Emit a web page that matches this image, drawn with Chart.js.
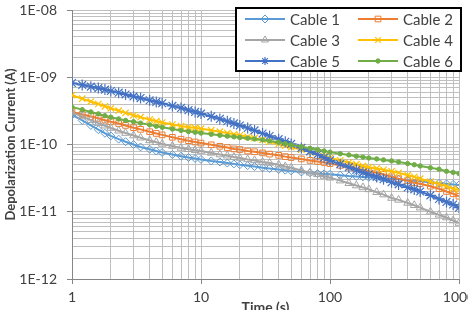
<!DOCTYPE html>
<html>
<head>
<meta charset="utf-8">
<script src="https://cdn.jsdelivr.net/npm/chart.js@4/dist/chart.umd.min.js"></script>
<style>
html, body { margin: 0; padding: 0; background: #fff; overflow: hidden; }
#wrap { width: 468px; height: 310px; }
</style>
</head>
<body>
<div id="wrap"><canvas id="chart" width="468" height="310"></canvas></div>
<script>
// Sample times (s)
const times = [1, 1.2, 1.4, 1.6, 1.8, 2, 2.3, 2.6, 3, 3.4, 4, 4.5, 5, 6, 7, 8, 9,
  10, 12, 14, 16, 18, 20, 23, 26, 30, 34, 40, 45, 50, 60, 70, 80, 90,
  100, 120, 140, 160, 180, 200, 230, 260, 300, 340, 400, 450, 500, 600, 700, 800, 900,
  1000];

// Depolarization current of each cable, in pA
const cable1 = [275, 228, 192, 166, 147, 134, 120, 110, 100, 92, 85, 80, 76, 71, 67, 64, 62,
  60, 57, 55, 53, 51.5, 50, 48.5, 47, 45, 44, 42.5, 41.5, 40.5, 39, 38, 37, 36.5,
  36, 35, 34, 33.5, 33, 32.5, 32, 31.5, 31, 30.5, 29.5, 29, 28.5, 27.5, 26.5, 26, 25.5,
  25];
const cable2 = [305, 280, 260, 245, 230, 218, 205, 192, 178, 168, 155, 146, 139, 128, 120, 114, 109,
  105, 99, 94, 90, 86, 84, 80, 78, 75, 72, 69, 66, 64, 61, 58, 56, 54,
  52, 49, 46, 44, 42, 40, 38, 36, 33, 31, 29, 27, 26, 24, 22, 20, 18.5,
  17];
const cable3 = [300, 260, 230, 208, 190, 176, 160, 148, 136, 126, 115, 108, 102, 95, 89, 85, 82,
  80, 75, 71, 68, 65, 63, 60, 58, 55, 53, 50, 47, 45, 41, 38, 36, 34,
  32, 29, 26.5, 24.5, 23, 21.5, 19.5, 18, 16, 15, 13.5, 12.5, 11.5, 10, 9, 8.2, 7.4,
  6.8];
const cable4 = [540, 480, 435, 400, 370, 345, 318, 295, 272, 255, 235, 222, 212, 198, 188, 181, 177,
  172, 163, 155, 148, 142, 137, 130, 124, 117, 110, 102, 96, 91, 84, 77, 72, 67,
  63, 58, 54, 51, 48, 46, 44, 42, 40, 38, 35, 33, 31, 28, 26, 24, 22,
  21];
const cable5 = [820, 770, 725, 690, 655, 625, 590, 555, 520, 490, 455, 430, 410, 375, 350, 325, 305,
  288, 262, 240, 222, 206, 192, 176, 162, 146, 134, 120, 110, 102, 89, 79, 71, 64,
  58, 51, 46, 42, 38.5, 36, 33, 30.5, 27.5, 25.5, 23, 21.5, 20, 17.5, 15.5, 14, 12.8,
  11.5];
const cable6 = [360, 330, 305, 285, 268, 255, 240, 228, 218, 208, 196, 187, 180, 170, 162, 156, 152,
  148, 142, 137, 133, 130, 127, 124, 121, 117, 113, 108, 103, 99, 93, 88, 84, 80,
  77, 73, 70, 67, 65, 63, 61, 59, 57, 55, 52, 50, 48, 45, 43, 40, 38.5,
  37];

const seriesNames = ['Cable 1', 'Cable 2', 'Cable 3', 'Cable 4', 'Cable 5', 'Cable 6'];

// Axis decades and their labels
const xMajor = [1, 10, 100, 1000];
const xTickLabels = ['1', '10', '100', '1000'];
const yMajor = [1e-12, 1e-11, 1e-10, 1e-9, 1e-8];
const yTickLabels = ['1E-12', '1E-11', '1E-10', '1E-09', '1E-08'];

const PA = 1e-12;
const gridColor = '#BFBFBF';
const axisColor = '#868686';
const textColor = '#404040';
const fontFamily = 'Lato, "Open Sans", sans-serif';

// major + minor (2..9) gridline ticks for a log axis
function logTicks(majors) {
    const out = [];
    majors.forEach((m, i) => {
        out.push({ value: m, major: true });
        if (i < majors.length - 1) {
            for (let k = 2; k <= 9; k++) out.push({ value: m * k, major: false });
        }
    });
    return out;
}

function labelFor(majors, labels) {
    return function(value) {
        const i = majors.findIndex(m => Math.abs(m - value) / m < 1e-6);
        return i >= 0 ? labels[i] : '';
    };
}

function points(values) {
    return values.map((v, i) => ({ x: times[i], y: v * PA }));
}

const styles = [
    { color: '#5B9BD5', pointStyle: 'rectRot', radius: 4, fill: 'rgba(0,0,0,0)', bw: 1 },
    { color: '#ED7D31', pointStyle: 'rect', radius: 4, fill: 'rgba(0,0,0,0)', bw: 1 },
    { color: '#A5A5A5', pointStyle: 'triangle', radius: 4.5, fill: 'rgba(0,0,0,0)', bw: 1 },
    { color: '#FFC000', pointStyle: 'crossRot', radius: 4.5, fill: 'rgba(0,0,0,0)', bw: 1.2 },
    { color: '#4472C4', pointStyle: 'star', radius: 5.5, fill: 'rgba(0,0,0,0)', bw: 1.2 },
    { color: '#70AD47', pointStyle: 'circle', radius: 2.2, fill: '#70AD47', bw: 1 }
];

const allSeries = [cable1, cable2, cable3, cable4, cable5, cable6];

const datasets = allSeries.map((vals, i) => ({
    label: seriesNames[i],
    data: points(vals),
    borderColor: styles[i].color,
    backgroundColor: styles[i].color,
    borderWidth: 2,
    pointStyle: styles[i].pointStyle,
    pointRadius: styles[i].radius,
    pointBorderColor: styles[i].color,
    pointBackgroundColor: styles[i].fill,
    pointBorderWidth: styles[i].bw,
    tension: 0,
    order: allSeries.length - 1 - i
}));

// Excel-like boxed legend, two columns
const boxLegend = {
    id: 'boxLegend',
    afterDraw(chart, args, o) {
        const ctx = chart.ctx;
        ctx.save();
        ctx.fillStyle = '#fff';
        ctx.fillRect(o.left, o.top, o.width, o.height);
        ctx.lineWidth = 2;
        ctx.strokeStyle = '#000';
        ctx.strokeRect(o.left, o.top, o.width, o.height);
        ctx.font = o.font;
        ctx.textBaseline = 'middle';
        ctx.textAlign = 'left';
        chart.data.datasets.forEach((ds, i) => {
            const col = i % 2;
            const row = Math.floor(i / 2);
            const x0 = o.left + o.colX[col];
            const y = o.top + o.rowY[row];
            ctx.strokeStyle = ds.borderColor;
            ctx.lineWidth = ds.borderWidth;
            ctx.beginPath();
            ctx.moveTo(x0, y);
            ctx.lineTo(x0 + o.lineLen, y);
            ctx.stroke();
            ctx.fillStyle = ds.pointBackgroundColor;
            ctx.lineWidth = ds.pointBorderWidth;
            Chart.helpers.drawPoint(ctx, {
                pointStyle: ds.pointStyle,
                radius: Math.min(ds.pointRadius, 4),
                rotation: 0,
                borderWidth: ds.pointBorderWidth
            }, x0 + o.lineLen / 2, y);
            ctx.fillStyle = textColor;
            ctx.fillText(ds.label, x0 + o.lineLen + 5, y + 1);
        });
        ctx.restore();
    }
};

new Chart(document.getElementById('chart').getContext('2d'), {
    type: 'line',
    data: { datasets: datasets },
    plugins: [boxLegend],
    options: {
        responsive: false,
        animation: false,
        layout: { padding: { top: 10, right: 9, left: 0, bottom: 0 } },
        plugins: {
            legend: { display: false },
            tooltip: { enabled: false },
            boxLegend: {
                left: 236, top: 8, width: 225, height: 63,
                colX: [9, 122], rowY: [11, 32, 53], lineLen: 40,
                font: '15px ' + fontFamily
            }
        },
        scales: {
            x: {
                type: 'logarithmic',
                min: 1,
                max: 1000,
                afterBuildTicks: scale => { scale.ticks = logTicks(xMajor); },
                afterFit: scale => {
                    scale.height = 31;
                    scale.paddingLeft = 0;
                    scale.paddingRight = 0;
                },
                grid: {
                    color: gridColor,
                    tickLength: 5,
                    tickColor: ctx => (ctx.tick && ctx.tick.major ? axisColor : 'rgba(0,0,0,0)')
                },
                border: { color: axisColor },
                ticks: {
                    autoSkip: false,
                    maxRotation: 0,
                    minRotation: 0,
                    padding: 5,
                    color: textColor,
                    font: { family: fontFamily, size: 14 },
                    callback: labelFor(xMajor, xTickLabels)
                },
                title: {
                    display: true,
                    text: 'Time (s)',
                    color: textColor,
                    font: { family: fontFamily, size: 14, weight: 'bold' },
                    padding: { top: 0, bottom: -6 }
                }
            },
            y: {
                type: 'logarithmic',
                min: 1e-12,
                max: 1e-8,
                afterBuildTicks: scale => { scale.ticks = logTicks(yMajor); },
                afterFit: scale => {
                    scale.width = 72;
                    scale.paddingTop = 0;
                    scale.paddingBottom = 0;
                },
                grid: {
                    color: gridColor,
                    tickLength: 5,
                    tickColor: ctx => (ctx.tick && ctx.tick.major ? axisColor : 'rgba(0,0,0,0)')
                },
                border: { color: axisColor },
                ticks: {
                    autoSkip: false,
                    padding: 10,
                    color: textColor,
                    font: { family: fontFamily, size: 14 },
                    callback: labelFor(yMajor, yTickLabels)
                },
                title: {
                    display: true,
                    text: 'Depolarization Current (A)',
                    color: textColor,
                    font: { family: fontFamily, size: 13, weight: 'bold' },
                    padding: { top: 3, bottom: 0 }
                }
            }
        }
    }
});
</script>
</body>
</html>
